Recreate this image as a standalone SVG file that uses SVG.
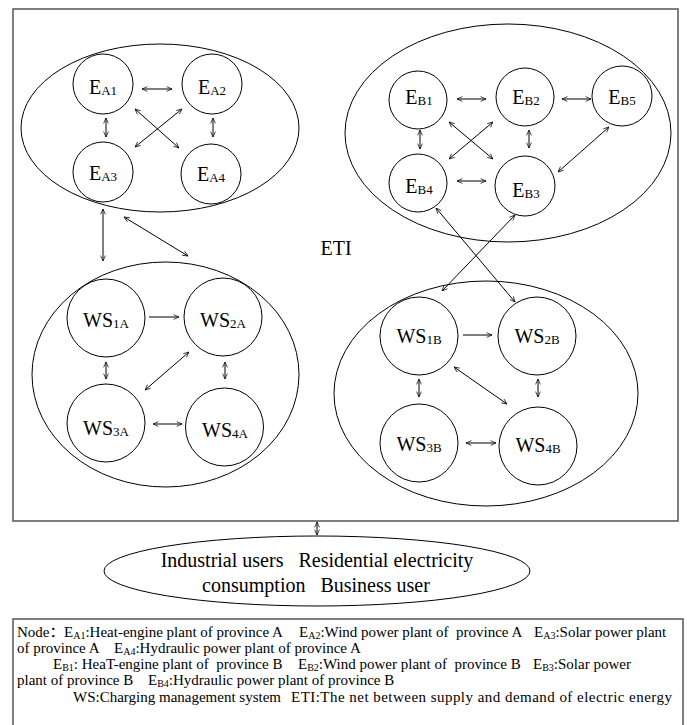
<svg xmlns="http://www.w3.org/2000/svg" width="687" height="725" viewBox="0 0 687 725">
<defs>
<marker id="ah" viewBox="0 0 10 10" refX="10" refY="5" markerWidth="6" markerHeight="6" markerUnits="userSpaceOnUse" orient="auto-start-reverse"><path d="M1,1 L10,5 L1,9" fill="none" stroke="#000" stroke-width="1.2"/></marker>
</defs>
<style>
.frame{fill:none;stroke:#555;stroke-width:1.5}
.grp{fill:none;stroke:#000;stroke-width:1}
.nd{fill:none;stroke:#000;stroke-width:1}
.lbl{font-family:"Liberation Serif","Times New Roman",serif;font-size:20px;fill:#000;text-anchor:middle}
.sub{font-size:13px}
#connectors line{stroke:#000;stroke-width:1}
.d{marker-start:url(#ah);marker-end:url(#ah)}
.s{marker-end:url(#ah)}
.leg{font-family:"Liberation Serif","Noto Sans CJK SC",serif;font-size:15px;fill:#000}
.ls{font-size:10px}
</style>
<rect class="frame" x="13" y="9" width="665" height="512"/>
<g id="groupA"><ellipse class="grp" cx="160" cy="128" rx="139" ry="84"/></g>
<g id="groupB"><ellipse class="grp" cx="508" cy="133" rx="163" ry="109"/></g>
<g id="groupWSA"><ellipse class="grp" cx="165.5" cy="374.5" rx="133.5" ry="112.5"/></g>
<g id="groupWSB"><ellipse class="grp" cx="486" cy="393.5" rx="152" ry="112.5"/></g>

<g id="EA1"><circle class="nd" cx="103" cy="84" r="30"/><text class="lbl" x="103" y="94">E<tspan class="sub" dy="1">A1</tspan></text></g>
<g id="EA2"><circle class="nd" cx="212" cy="84" r="30"/><text class="lbl" x="212" y="94">E<tspan class="sub" dy="1">A2</tspan></text></g>
<g id="EA3"><circle class="nd" cx="103" cy="172" r="30"/><text class="lbl" x="103" y="180">E<tspan class="sub" dy="1">A3</tspan></text></g>
<g id="EA4"><circle class="nd" cx="211" cy="174" r="30"/><text class="lbl" x="211" y="181">E<tspan class="sub" dy="1">A4</tspan></text></g>

<g id="EB1"><circle class="nd" cx="418" cy="100" r="29"/><text class="lbl" x="419" y="104">E<tspan class="sub" dy="1">B1</tspan></text></g>
<g id="EB2"><circle class="nd" cx="525" cy="97" r="29"/><text class="lbl" x="526" y="104">E<tspan class="sub" dy="1">B2</tspan></text></g>
<g id="EB5"><circle class="nd" cx="622" cy="96" r="30"/><text class="lbl" x="622" y="104">E<tspan class="sub" dy="1">B5</tspan></text></g>
<g id="EB4"><circle class="nd" cx="418" cy="183" r="29"/><text class="lbl" x="419" y="193">E<tspan class="sub" dy="1">B4</tspan></text></g>
<g id="EB3"><circle class="nd" cx="525" cy="186" r="30"/><text class="lbl" x="526" y="197">E<tspan class="sub" dy="1">B3</tspan></text></g>

<g id="WS1A"><circle class="nd" cx="106" cy="318" r="39"/><text class="lbl" x="106" y="327">WS<tspan class="sub" dy="1">1A</tspan></text></g>
<g id="WS2A"><circle class="nd" cx="223" cy="317" r="39"/><text class="lbl" x="223" y="327">WS<tspan class="sub" dy="1">2A</tspan></text></g>
<g id="WS3A"><circle class="nd" cx="106" cy="423" r="39"/><text class="lbl" x="106" y="435">WS<tspan class="sub" dy="1">3A</tspan></text></g>
<g id="WS4A"><circle class="nd" cx="224.5" cy="427" r="39"/><text class="lbl" x="225" y="437">WS<tspan class="sub" dy="1">4A</tspan></text></g>

<g id="WS1B"><circle class="nd" cx="419" cy="336" r="39"/><text class="lbl" x="419" y="343">WS<tspan class="sub" dy="1">1B</tspan></text></g>
<g id="WS2B"><circle class="nd" cx="537" cy="336" r="39"/><text class="lbl" x="537" y="343">WS<tspan class="sub" dy="1">2B</tspan></text></g>
<g id="WS3B"><circle class="nd" cx="419" cy="443" r="39"/><text class="lbl" x="419" y="451">WS<tspan class="sub" dy="1">3B</tspan></text></g>
<g id="WS4B"><circle class="nd" cx="538" cy="446" r="39"/><text class="lbl" x="538" y="452">WS<tspan class="sub" dy="1">4B</tspan></text></g>

<g id="ETI"><text class="lbl" x="336" y="255">ETI</text></g>

<g id="users"><ellipse class="grp" cx="317" cy="571" rx="213" ry="35"/>
<text class="lbl" x="317" y="567" xml:space="preserve">Industrial users   Residential electricity</text>
<text class="lbl" x="316" y="592" xml:space="preserve">consumption   Business user</text></g>

<g id="connectors">
<line class="d" x1="142" y1="89" x2="172" y2="89"/>
<line class="d" x1="106" y1="118" x2="106" y2="137"/>
<line class="d" x1="213" y1="118" x2="213" y2="137"/>
<line class="d" x1="135" y1="109" x2="179" y2="148"/>
<line class="d" x1="182" y1="109" x2="135" y2="147"/>
<line class="d" x1="103" y1="209" x2="103" y2="261"/>
<line class="d" x1="124" y1="217" x2="188" y2="256"/>

<line class="d" x1="457" y1="99" x2="486" y2="99"/>
<line class="d" x1="562" y1="99" x2="591" y2="99"/>
<line class="d" x1="420" y1="130" x2="420" y2="149"/>
<line class="d" x1="529" y1="130" x2="529" y2="148"/>
<line class="d" x1="457" y1="181" x2="486" y2="181"/>
<line class="d" x1="449" y1="122" x2="493" y2="159"/>
<line class="d" x1="493" y1="122" x2="449" y2="159"/>
<line class="d" x1="609" y1="127" x2="558" y2="172"/>
<line class="d" x1="436" y1="208" x2="515" y2="302"/>
<line class="d" x1="515" y1="215" x2="442" y2="291"/>

<line class="s" x1="149" y1="317" x2="179" y2="317"/>
<line class="d" x1="106" y1="362" x2="106" y2="379"/>
<line class="d" x1="225" y1="362" x2="225" y2="379"/>
<line class="d" x1="189" y1="352" x2="145" y2="390"/>
<line class="d" x1="153" y1="424" x2="182" y2="424"/>

<line class="s" x1="463" y1="335" x2="492" y2="335"/>
<line class="d" x1="419" y1="379" x2="419" y2="397"/>
<line class="d" x1="538" y1="379" x2="538" y2="397"/>
<line class="d" x1="454" y1="367" x2="507" y2="404"/>
<line class="d" x1="466" y1="443" x2="496" y2="443"/>

<line class="d" x1="317" y1="522" x2="317" y2="535"/>
</g>

<g id="legend">
<rect class="frame" x="13" y="619" width="670" height="120"/>
<text class="leg" y="637" xml:space="preserve"><tspan x="17">Node：</tspan><tspan x="64">E<tspan class="ls" dy="2">A1</tspan><tspan dy="-2">:Heat-engine plant of province A</tspan></tspan><tspan x="299">E<tspan class="ls" dy="2">A2</tspan><tspan dy="-2">:Wind power plant of  province A</tspan></tspan><tspan x="534">E<tspan class="ls" dy="2">A3</tspan><tspan dy="-2">:Solar power plant</tspan></tspan></text>
<text class="leg" y="653" xml:space="preserve"><tspan x="17">of province A</tspan><tspan x="114">E<tspan class="ls" dy="2">A4</tspan><tspan dy="-2">:Hydraulic power plant of province A</tspan></tspan></text>
<text class="leg" y="669" xml:space="preserve"><tspan x="53">E<tspan class="ls" dy="2">B1</tspan><tspan dy="-2">: HeaT-engine plant of  province B</tspan></tspan><tspan x="298">E<tspan class="ls" dy="2">B2</tspan><tspan dy="-2">:Wind power plant of  province B</tspan></tspan><tspan x="533">E<tspan class="ls" dy="2">B3</tspan><tspan dy="-2">:Solar power</tspan></tspan></text>
<text class="leg" y="685" xml:space="preserve"><tspan x="17">plant of province B</tspan><tspan x="148">E<tspan class="ls" dy="2">B4</tspan><tspan dy="-2">:Hydraulic power plant of province B</tspan></tspan></text>
<text class="leg" y="702" xml:space="preserve"><tspan x="73">WS:Charging management system</tspan><tspan x="291" textLength="381">ETI:The net between supply and demand of electric energy</tspan></text>
</g>
</svg>
